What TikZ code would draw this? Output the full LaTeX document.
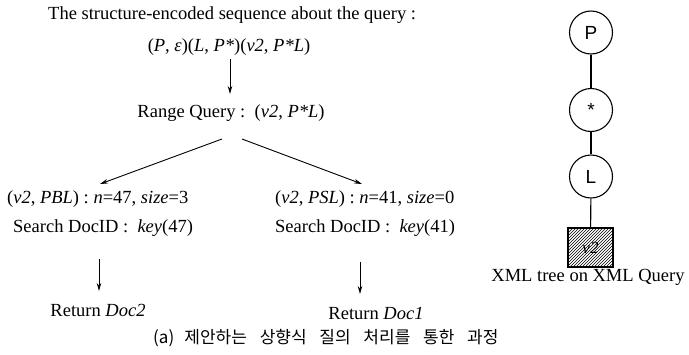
\documentclass[tikz,border=0pt]{standalone}
\usepackage{fontspec}
\setmainfont{Liberation Serif}
\newfontfamily\krfont{Noto Sans CJK KR}
\newfontfamily\treefont{Liberation Sans}
\usetikzlibrary{arrows.meta,patterns}

\begin{document}
\begin{tikzpicture}[x=1pt,y=-1pt,
  lbl/.style={inner sep=0pt, font=\fontsize{18.5}{21}\selectfont},
  flow/.style={-{Stealth[length=8pt,width=4.5pt]}, line width=0.9pt},
  tnode/.style={circle, draw, line width=1.1pt, minimum size=43pt, inner sep=0pt,
                font=\treefont\fontsize{19}{21}\selectfont},
  leaf/.style={draw, line width=1.4pt, minimum width=45pt, minimum height=39pt,
               inner sep=0pt, pattern=north east lines,
               font=\itshape\fontsize{17}{19}\selectfont},
  link/.style={line width=1.1pt}]
\useasboundingbox (0,0) rectangle (689,354);

% query processing steps
\node[lbl, anchor=west] (title) at (48,15) {The structure-encoded sequence about the query :};
\node[lbl] (seq) at (229,47) {(\textit{P}, \textit{ε})(\textit{L}, \textit{P*})(\textit{v2}, \textit{P*L})};
\node[lbl] (range) at (231,113) {Range Query :\ \ (\textit{v2}, \textit{P*L})};

\node[lbl, anchor=west] (lres) at (7,199) {(\textit{v2}, \textit{PBL}) : \textit{n}=47, \textit{size}=3};
\node[lbl, anchor=west] (lsearch) at (13,228) {Search DocID :\ \ \textit{key}(47)};
\node[lbl, anchor=west] (rres) at (275,199) {(\textit{v2}, \textit{PSL}) : \textit{n}=41, \textit{size}=0};
\node[lbl, anchor=west] (rsearch) at (275,228) {Search DocID :\ \ \textit{key}(41)};

\node[lbl] (lret) at (98,310) {Return \textit{Doc2}};
\node[lbl] (rret) at (376,313) {Return \textit{Doc1}};

\coordinate (seqout) at (230,59);
\coordinate (rangein) at (230,94);
\coordinate (splitl) at (222,139);
\coordinate (splitr) at (242,139);
\coordinate (lend) at (100,184);
\coordinate (rend) at (362,184);
\coordinate (lsout) at (99,259);
\coordinate (lrin) at (99,291);
\coordinate (rsout) at (360,262);
\coordinate (rrin) at (360,294);

\draw[flow] (seqout) -- (rangein);
\draw[flow] (splitl) -- (lend);
\draw[flow] (splitr) -- (rend);
\draw[flow] (lsout) -- (lrin);
\draw[flow] (rsout) -- (rrin);

% query tree
\node[tnode] (p) at (591,32.5) {P};
\node[tnode] (star) at (591,110) {*};
\node[tnode] (l) at (591,176.5) {L};
\node[leaf] (v) at (590.5,247.5) {v2};
\node[lbl] (treecap) at (588,277) {XML tree on XML Query};
\draw[link] (p) -- (star);
\draw[link] (star) -- (l);
\draw[link] (l) -- (v);

% caption
\node[inner sep=0pt, anchor=west, font=\krfont\fontsize{17}{19}\selectfont] (cap) at (153,338)
  {(a)\hspace{0.6em}제안하는\hspace{0.75em}상향식\hspace{0.75em}질의\hspace{0.75em}처리를\hspace{0.75em}통한\hspace{0.75em}과정};
\end{tikzpicture}
\end{document}
